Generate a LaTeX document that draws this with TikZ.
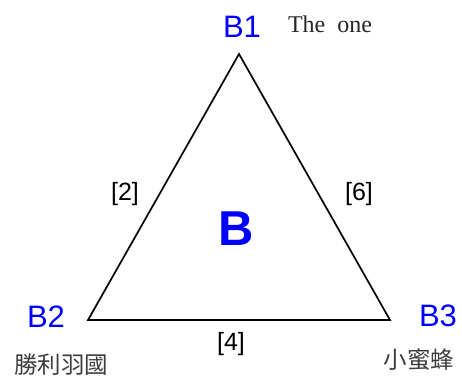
\documentclass[tikz,border=0pt]{standalone}
\usepackage{fontspec}
\setmainfont{Liberation Sans}
\newfontfamily\serifone{Liberation Serif}
\newfontfamily\cjk{Noto Sans CJK TC}
\definecolor{lblblue}{RGB}{0,0,255}
\definecolor{cjkgray}{RGB}{60,60,60}
\begin{document}
\begin{tikzpicture}[x=1pt,y=-1pt,
  vlabel/.style={text=lblblue,font=\fontsize{31}{31}\selectfont,inner sep=0pt},
  elabel/.style={font=\fontsize{25}{25}\selectfont,inner sep=0pt},
  cjklabel/.style={text=cjkgray,font=\cjk\fontsize{23.5}{23.5}\selectfont,inner sep=0pt},
  edge/.style={line width=1.7pt,line join=miter}]
\useasboundingbox (0,0) rectangle (462,379);
\coordinate (t) at (239,54);
\coordinate (l) at (88,320);
\coordinate (r) at (390,320);
\draw[edge] (t) -- (l) -- (r) -- cycle;
\node[vlabel] (b1) at (242,27) {B1};
\node[vlabel] (b2) at (46,317) {B2};
\node[vlabel] (b3) at (438,316) {B3};
\node[inner sep=0pt,font=\serifone\fontsize{24}{24}\selectfont,text=black!85] (one) at (330,24) {The\hspace{0.5em}one};
\node[elabel] (e2) at (125,194) {[2]};
\node[elabel] (e6) at (359,194) {[6]};
\node[elabel] (e4) at (231,344) {[4]};
\node[inner sep=0pt,text=lblblue,font=\bfseries\fontsize{49}{49}\selectfont] (bb) at (236,229) {B};
\node[cjklabel] (c2) at (61,365) {勝利羽國};
\node[cjklabel] (c3) at (419,360) {小蜜蜂};
\end{tikzpicture}
\end{document}
